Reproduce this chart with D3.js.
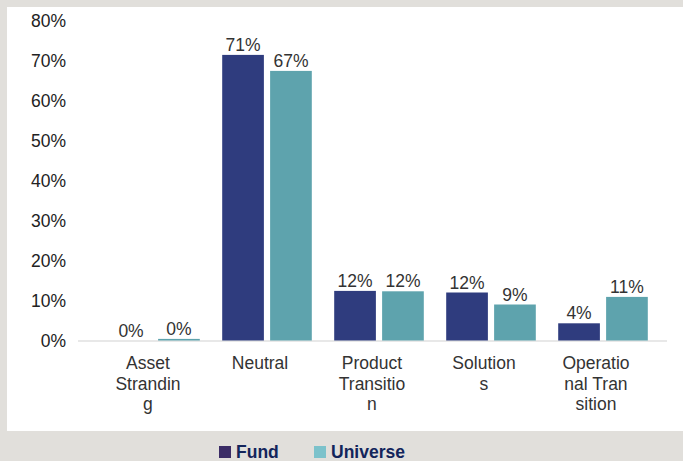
<!DOCTYPE html>
<html>
<head>
<meta charset="utf-8">
<script src="https://cdn.jsdelivr.net/npm/d3@7"></script>
<style>
  body { margin: 0; background: #e1dfdb; }
  svg { display: block; font-family: "Liberation Sans", Arial, sans-serif; }
</style>
</head>
<body>
<div id="chart"></div>
<script>
// chart values
var categories = ["Asset Stranding", "Neutral", "Product Transition", "Solutions", "Operational Transition"];
var categoryLines = [["Asset", "Strandin", "g"], ["Neutral"], ["Product", "Transitio", "n"], ["Solution", "s"], ["Operatio", "nal Tran", "sition"]];
var seriesNames = ["Fund", "Universe"];
var fundValues = [0, 71.4, 12.4, 12.0, 4.3];
var universeValues = [0.4, 67.4, 12.3, 9.0, 10.9];
var yTicks = [0, 10, 20, 30, 40, 50, 60, 70, 80];

var width = 683, height = 461;
var barColor = {"Fund": "#2f3c7e", "Universe": "#5ea3ad"};
var legendColor = {"Fund": "#3b2c66", "Universe": "#7cc2cb"};

var rows = categories.map(function(c, i) {
    return {cat: c, lines: categoryLines[i], values: [
        {key: "Fund", v: fundValues[i]},
        {key: "Universe", v: universeValues[i]}
    ]};
});

var svg = d3.select("#chart")
    .append("svg")
    .attr("width", width)
    .attr("height", height);

// white panel
svg.append("rect")
    .attr("x", 7).attr("y", 7)
    .attr("width", width - 7).attr("height", 424)
    .attr("fill", "#ffffff");

var x0 = d3.scaleBand()
    .domain(categories)
    .range([99, 659])
    .paddingInner(0.2)
    .paddingOuter(0.1);

var x1 = d3.scaleBand()
    .domain(seriesNames)
    .range([0, x0.bandwidth()])
    .paddingInner(0.13)
    .paddingOuter(0);

var y = d3.scaleLinear()
    .domain([0, 80])
    .range([340.5, 20.5]);

// y tick labels
svg.append("g")
    .selectAll("text")
    .data(yTicks)
    .enter()
    .append("text")
    .attr("x", 66)
    .attr("y", function(d) { return y(d); })
    .attr("dy", "0.36em")
    .attr("text-anchor", "end")
    .attr("font-size", 17.5)
    .attr("fill", "#222")
    .text(function(d) { return d + "%"; });

// baseline
svg.append("line")
    .attr("x1", 78).attr("x2", 667)
    .attr("y1", y(0) + 0.5).attr("y2", y(0) + 0.5)
    .attr("stroke", "#e8e8e8")
    .attr("stroke-width", 2);

var group = svg.selectAll(".cat")
    .data(rows)
    .enter()
    .append("g")
    .attr("class", "cat")
    .attr("transform", function(d) { return "translate(" + x0(d.cat) + ",0)"; });

group.selectAll("rect")
    .data(function(d) { return d.values; })
    .enter()
    .append("rect")
    .attr("x", function(d) { return x1(d.key); })
    .attr("y", function(d) { return y(d.v); })
    .attr("width", x1.bandwidth())
    .attr("height", function(d) { return y(0) - y(d.v); })
    .attr("fill", function(d) { return barColor[d.key]; });

group.selectAll(".val")
    .data(function(d) { return d.values; })
    .enter()
    .append("text")
    .attr("class", "val")
    .attr("x", function(d) { return x1(d.key) + x1.bandwidth() / 2; })
    .attr("y", function(d) { return y(d.v) - 4; })
    .attr("text-anchor", "middle")
    .attr("font-size", 17.5)
    .attr("fill", "#333")
    .text(function(d) { return Math.round(d.v) + "%"; });

// category labels, wrapped like the original (sit a little left of the bars)
group.append("text")
    .attr("text-anchor", "middle")
    .attr("font-size", 17.5)
    .attr("fill", "#333")
    .selectAll("tspan")
    .data(function(d) { return d.lines; })
    .enter()
    .append("tspan")
    .attr("x", x0.bandwidth() / 2 - 7)
    .attr("y", function(d, i) { return 369 + i * 20.5; })
    .text(function(d) { return d; });

// legend
var legendX = [219, 314];
var legend = svg.selectAll(".legend")
    .data(seriesNames)
    .enter()
    .append("g")
    .attr("class", "legend")
    .attr("transform", function(d, i) { return "translate(" + legendX[i] + ",446)"; });

legend.append("rect")
    .attr("width", 12).attr("height", 12)
    .attr("fill", function(d) { return legendColor[d]; });

legend.append("text")
    .attr("x", 17)
    .attr("y", 12)
    .attr("font-size", 17.5)
    .attr("font-weight", "bold")
    .attr("fill", "#13255b")
    .text(function(d) { return d; });
</script>
</body>
</html>
